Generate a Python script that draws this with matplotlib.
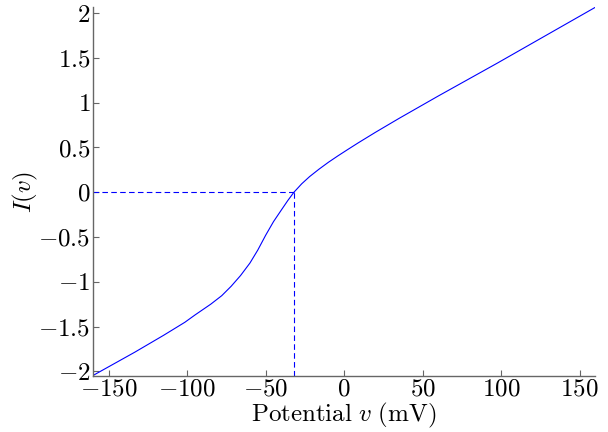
import matplotlib
matplotlib.use("Agg")
import matplotlib.pyplot as plt
from matplotlib.ticker import FuncFormatter

plt.rcParams["mathtext.fontset"] = "cm"
plt.rcParams["font.family"] = "serif"
plt.rcParams["font.serif"] = ["cmr10", "DejaVu Serif"]

# curve: potential (mV) and current
v = [-160, -133.4, -115, -101.5, -95, -85, -78, -72, -66, -60, -55, -50,
     -45, -40, -36, -32, -27, -22, -16, -10, -4, 2, 9, 20, 35, 60, 97.4, 160]
current = [-2.046, -1.786, -1.597, -1.452, -1.37, -1.25, -1.155, -1.05, -0.93,
           -0.79, -0.645, -0.48, -0.328, -0.198, -0.095, 0.0, 0.095, 0.175,
           0.258, 0.335, 0.406, 0.474, 0.552, 0.67, 0.825, 1.075, 1.44, 2.065]

v_rest = -32.0
x_ticks = [-150, -100, -50, 0, 50, 100, 150]
y_ticks = [-2, -1.5, -1, -0.5, 0, 0.5, 1, 1.5, 2]

fig = plt.figure(figsize=(6.08, 4.32), dpi=100)
ax = fig.add_axes([0.153, 0.13, 0.826, 0.853])

ax.plot(v, current, color="blue", lw=0.8)
ax.plot([-160, v_rest], [0, 0], color="blue", lw=0.8, ls=(0, (5, 3)))
ax.plot([v_rest, v_rest], [-2.05, 0], color="blue", lw=0.8, ls=(0, (5, 3)))

ax.set_xlim(-160, 160)
ax.set_ylim(-2.05, 2.065)
ax.set_xticks(x_ticks)
ax.set_yticks(y_ticks)
fmt = FuncFormatter(lambda x, pos: r"$%g$" % x)
ax.xaxis.set_major_formatter(fmt)
ax.yaxis.set_major_formatter(fmt)

for side in ["top", "right"]:
    ax.spines[side].set_visible(False)
for side in ["left", "bottom"]:
    ax.spines[side].set_color("0.4")
    ax.spines[side].set_linewidth(1.0)
ax.tick_params(direction="in", length=4, width=0.8, color="0.4",
               labelsize=18, pad=2)

ax.set_xlabel(r"$\mathrm{Potential}\ v\ \mathrm{(mV)}$", fontsize=18, labelpad=0)
ax.set_ylabel(r"$I(v)$", fontsize=18, labelpad=-1)

fig.savefig("out.png", dpi=100)
